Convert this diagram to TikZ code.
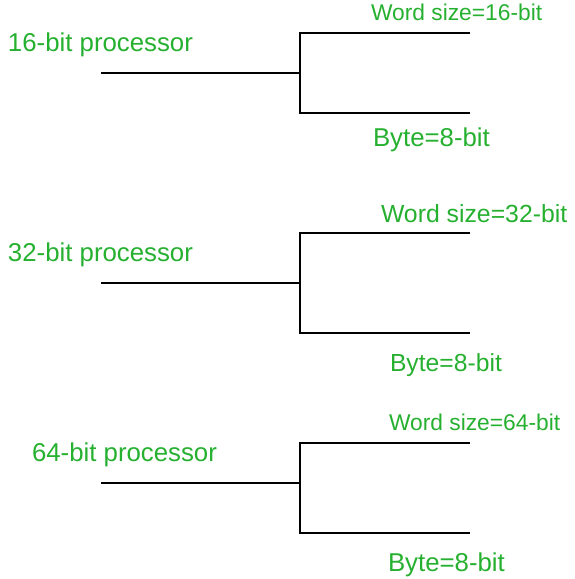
\documentclass[tikz,border=0pt]{standalone}
\usepackage{fontspec}
\setmainfont{Liberation Sans}
\definecolor{lblgreen}{RGB}{38,176,48}
\tikzset{
  lbl/.style={text=lblgreen, inner sep=0pt, outer sep=0pt, anchor=base west},
  wire/.style={draw=black, line width=1.3pt}
}
\newcommand{\fsz}[1]{\fontsize{#1}{#1}\selectfont}
\begin{document}
\begin{tikzpicture}[x=1pt,y=-1pt]
\useasboundingbox (0,0) rectangle (574,579);
% group 1
\node[lbl, font=\fsz{25.8pt}] (p1) at (8,51.7) {16-bit processor};
\node[lbl, font=\fsz{22.8pt}] (w1) at (371,20) {Word size=16-bit};
\node[lbl, font=\fsz{25.8pt}] (y1) at (373,146.7) {Byte=8-bit};
\coordinate (s1) at (101,73);
\coordinate (j1) at (300,73);
\coordinate (t1) at (300,33);
\coordinate (b1) at (300,113);
\coordinate (te1) at (470,33);
\coordinate (be1) at (470,113);
\draw[wire] (s1) -- (j1);
\draw[wire] (te1) -- (t1) -- (b1) -- (be1);
% group 2
\node[lbl, font=\fsz{25.8pt}] (p2) at (8,261.7) {32-bit processor};
\node[lbl, font=\fsz{24.8pt}] (w2) at (381,222.7) {Word size=32-bit};
\node[lbl, font=\fsz{24.7pt}] (y2) at (390,371.7) {Byte=8-bit};
\coordinate (s2) at (101,283);
\coordinate (j2) at (300,283);
\coordinate (t2) at (300,233);
\coordinate (b2) at (300,333);
\coordinate (te2) at (470,233);
\coordinate (be2) at (470,333);
\draw[wire] (s2) -- (j2);
\draw[wire] (te2) -- (t2) -- (b2) -- (be2);
% group 3
\node[lbl, font=\fsz{25.8pt}] (p3) at (32,461.7) {64-bit processor};
\node[lbl, font=\fsz{22.8pt}] (w3) at (389,430.7) {Word size=64-bit};
\node[lbl, font=\fsz{25.8pt}] (y3) at (388,571.7) {Byte=8-bit};
\coordinate (s3) at (101,483);
\coordinate (j3) at (300,483);
\coordinate (t3) at (300,443);
\coordinate (b3) at (300,533);
\coordinate (te3) at (470,443);
\coordinate (be3) at (470,533);
\draw[wire] (s3) -- (j3);
\draw[wire] (te3) -- (t3) -- (b3) -- (be3);
\end{tikzpicture}
\end{document}
